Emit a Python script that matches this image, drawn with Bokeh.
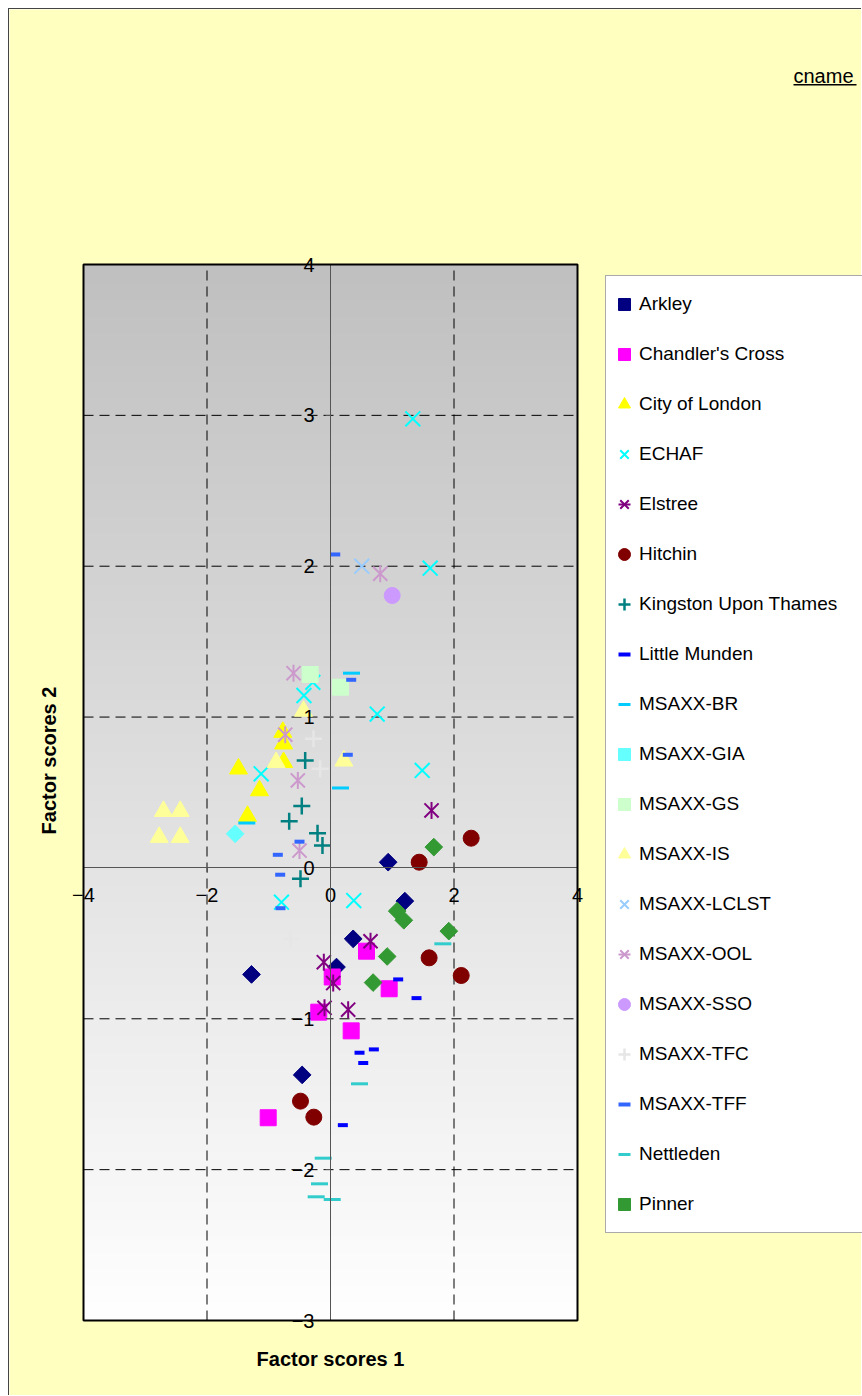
import numpy as np
from bokeh.plotting import figure
from bokeh.models import (Range1d, FixedTicker, Legend, LegendItem, ColumnDataSource,
                          Label, BoxAnnotation)
from bokeh.embed import file_html
from bokeh.resources import INLINE

# ---------------- data ----------------
arkley_x = [0.934, 1.204, 0.367, 0.097, -1.279, -0.459]
arkley_y = [0.038, -0.220, -0.470, -0.657, -0.706, -1.372]

chandlers_x = [0.583, 0.028, 0.950, -0.190, 0.335, -1.009]
chandlers_y = [-0.552, -0.723, -0.801, -0.956, -1.080, -1.656]

city_x = [-0.772, -0.760, -0.760, -1.490, -1.150, -1.344]
city_y = [0.900, 0.823, 0.700, 0.657, 0.513, 0.343]

echaf_x = [1.333, 1.614, -0.286, -0.430, 0.756, 1.485, -1.123, -0.794, 0.377]
echaf_y = [2.977, 1.987, 1.230, 1.143, 1.020, 0.646, 0.624, -0.227, -0.216]

elstree_x = [1.636, 0.648, -0.108, 0.044, -0.097, 0.286]
elstree_y = [0.381, -0.486, -0.625, -0.763, -0.927, -0.940]

hitchin_x = [2.278, 1.436, 1.597, 2.117, -0.486, -0.270]
hitchin_y = [0.197, 0.038, -0.596, -0.713, -1.546, -1.652]

kingston_x = [-0.410, -0.465, -0.669, -0.210, -0.130, -0.486]
kingston_y = [0.712, 0.410, 0.310, 0.230, 0.148, -0.072]

munden_x = [1.096, 1.393, 0.470, 0.702, 0.530, 0.200]
munden_y = [-0.739, -0.863, -1.225, -1.203, -1.293, -1.705]

br_x = [0.340, 0.162, -1.355]
br_y = [1.291, 0.530, 0.297]

gia_x = [-1.544]
gia_y = [0.226]

gs_x = [-0.329, 0.162]
gs_y = [1.282, 1.198]

is_x = [-0.437, -0.880, 0.216, -2.705, -2.434, -2.774, -2.434]
is_y = [1.040, 0.700, 0.710, 0.376, 0.376, 0.204, 0.204]

lclst_x = [0.507]
lclst_y = [2.000]

ool_x = [0.805, -0.599, -0.733, -0.529, -0.502]
ool_y = [1.950, 1.291, 0.883, 0.580, 0.115]

sso_x = [0.999]
sso_y = [1.806]

tfc_x = [-0.275, -0.167, -0.648]
tfc_y = [0.856, 0.657, -0.470]

tff_x = [0.077, 0.335, 0.280, -0.502, -0.853, -0.815, -0.810]
tff_y = [2.078, 1.247, 0.750, 0.174, 0.087, -0.045, -0.267]

nettleden_x = [1.819, 0.470, -0.118, -0.178, -0.232, 0.028]
nettleden_y = [-0.503, -1.431, -1.924, -2.094, -2.180, -2.198]

pinner_x = [1.673, 1.080, 1.187, 1.916, 0.918, 0.690]
pinner_y = [0.138, -0.286, -0.347, -0.419, -0.587, -0.760]

x_ticks = [-4, -2, 0, 2, 4]
y_ticks = [-3, -2, -1, 0, 1, 2, 3, 4]

# name, xs, ys, marker kind, colour
series = [
    ("Arkley", arkley_x, arkley_y, "diamond", "#000080"),
    ("Chandler's Cross", chandlers_x, chandlers_y, "square", "#FF00FF"),
    ("City of London", city_x, city_y, "triangle", "#FFFF00"),
    ("ECHAF", echaf_x, echaf_y, "x", "#00FFFF"),
    ("Elstree", elstree_x, elstree_y, "star", "#800080"),
    ("Hitchin", hitchin_x, hitchin_y, "circle", "#800000"),
    ("Kingston Upon Thames", kingston_x, kingston_y, "cross", "#008080"),
    ("Little Munden", munden_x, munden_y, "shortdash", "#0000FF"),
    ("MSAXX-BR", br_x, br_y, "longdash", "#00CCFF"),
    ("MSAXX-GIA", gia_x, gia_y, "diamond", "#66FFFF"),
    ("MSAXX-GS", gs_x, gs_y, "square", "#CCFFCC"),
    ("MSAXX-IS", is_x, is_y, "triangle", "#FFFF99"),
    ("MSAXX-LCLST", lclst_x, lclst_y, "x", "#99CCFF"),
    ("MSAXX-OOL", ool_x, ool_y, "star", "#CC99CC"),
    ("MSAXX-SSO", sso_x, sso_y, "circle", "#CC99FF"),
    ("MSAXX-TFC", tfc_x, tfc_y, "cross", "#E6E6E6"),
    ("MSAXX-TFF", tff_x, tff_y, "shortdash", "#3366FF"),
    ("Nettleden", nettleden_x, nettleden_y, "longdash", "#33CCCC"),
    ("Pinner", pinner_x, pinner_y, "diamond", "#339933"),
]

FONT = "Liberation Sans"

# ---------------- layout (canvas pixels) ----------------
W, H = 853, 1387                 # canvas size (page offset 9 px: 8 margin + 1 border)
PL, PR, PT, PB = 74, 568, 255, 1311   # plot-area box inside the canvas
x0, x1 = x_ticks[0], x_ticks[-1]
y0, y1 = y_ticks[0], y_ticks[-1]
sx = (PR - PL) / (x1 - x0)
sy = (PB - PT) / (y1 - y0)
xr = Range1d(x0 - PL / sx, x1 + (W - PR) / sx)
yr = Range1d(y0 - (H - PB) / sy, y1 + PT / sy)

p = figure(width=W, height=H, output_backend="svg", toolbar_location=None,
           x_range=xr, y_range=yr,
           min_border_left=0, min_border_right=0, min_border_top=0, min_border_bottom=0,
           background_fill_color="#FFFFC0", border_fill_color="#FFFFC0")
p.styles = {"margin-left": "8px", "margin-top": "8px",
            "border-top": "1px solid #444444", "border-left": "1px solid #444444"}
p.outline_line_color = None

# gradient background of the plotting area (gray top -> white bottom)
N = 512
vals = np.linspace(255, 192, N).astype(np.uint8)
img = np.empty((N, 1), dtype=np.uint32)
view = img.view(dtype=np.uint8).reshape((N, 1, 4))
view[:, 0, 0] = vals
view[:, 0, 1] = vals
view[:, 0, 2] = vals
view[:, 0, 3] = 255
p.image_rgba(image=[img], x=x0, y=y0, dw=x1 - x0, dh=y1 - y0, level="image")

# dashed grid lines inside the plot area only
p.xgrid.visible = False
p.ygrid.visible = False
gx = [t for t in x_ticks if t not in (x0, 0, x1)]
gy = [t for t in y_ticks if t not in (y0, 0, y1)]
p.segment(x0=gx, y0=[y0] * len(gx), x1=gx, y1=[y1] * len(gx),
          line_color="black", line_dash="10 6", line_width=1, level="underlay")
p.segment(x0=[x0] * len(gy), y0=gy, x1=[x1] * len(gy), y1=gy,
          line_color="black", line_dash="10 6", line_width=1, level="underlay")

for ax, ticks in ((p.xaxis, x_ticks), (p.yaxis, y_ticks)):
    ax.fixed_location = 0
    ax.bounds = (ticks[0], ticks[-1])
    ax.ticker = FixedTicker(ticks=ticks)
    ax.axis_line_color = "#555555"
    ax.axis_line_width = 1
    ax.major_tick_line_color = "#555555"
    ax.major_tick_out = 5
    ax.major_tick_in = 0
    ax.minor_tick_out = 0
    ax.minor_tick_in = 0
    ax.major_label_text_font = FONT
    ax.major_label_text_font_size = "20px"
    ax.major_label_text_color = "black"
p.xaxis.major_label_standoff = 15
p.yaxis.major_label_standoff = 11

items = []
for name, xs, ys, kind, color in series:
    src = ColumnDataSource(dict(x=xs, y=ys))
    rs = []
    if kind == "diamond":
        rs.append(p.scatter("x", "y", source=src, marker="square", angle=np.pi / 4, size=12.5,
                            fill_color=color, line_color=color))
    elif kind == "square":
        rs.append(p.scatter("x", "y", source=src, marker="square", size=16,
                            fill_color=color, line_color=color))
    elif kind == "triangle":
        rs.append(p.scatter("x", "y", source=src, marker="triangle", size=18,
                            fill_color=color, line_color=color))
    elif kind == "circle":
        rs.append(p.scatter("x", "y", source=src, marker="circle", size=16,
                            fill_color=color, line_color=color))
    elif kind == "x":
        rs.append(p.scatter("x", "y", source=src, marker="x", size=21,
                            line_color=color, line_width=2))
    elif kind == "star":
        rs.append(p.scatter("x", "y", source=src, marker="x", size=20,
                            line_color=color, line_width=2))
        rs.append(p.scatter("x", "y", source=src, marker="dash", angle=np.pi / 2, size=17,
                            line_color=color, line_width=2))
    elif kind == "cross":
        rs.append(p.scatter("x", "y", source=src, marker="cross", size=17,
                            line_color=color, line_width=2.5))
    elif kind == "shortdash":
        rs.append(p.scatter("x", "y", source=src, marker="dash", size=10,
                            line_color=color, line_width=4))
    elif kind == "longdash":
        rs.append(p.scatter("x", "y", source=src, marker="dash", size=17,
                            line_color=color, line_width=3))
    items.append(LegendItem(label=name, renderers=rs))

# plot-area border
p.add_layout(BoxAnnotation(left=x0, right=x1, bottom=y0, top=y1, fill_alpha=0,
                           line_color="black", line_width=2, line_alpha=1))

legend = Legend(items=items, location=(596, 163), orientation="vertical",
                glyph_width=30, glyph_height=50, label_height=20, spacing=0,
                padding=3, margin=0, label_standoff=0, label_width=250,
                label_text_font=FONT, label_text_font_size="19px", label_text_color="black",
                border_line_color="#555555", border_line_width=1,
                background_fill_color="white", background_fill_alpha=1.0)
p.add_layout(legend)

# axis titles and caption (screen px from the canvas' bottom-left corner)
p.add_layout(Label(x=321, y=38, x_units="screen", y_units="screen", text="Factor scores 1",
                   text_align="center", text_baseline="middle", text_font=FONT,
                   text_font_size="20px", text_font_style="bold", text_color="black"))
p.add_layout(Label(x=39, y=636, x_units="screen", y_units="screen", text="Factor scores 2",
                   angle=np.pi / 2, text_align="center", text_baseline="middle", text_font=FONT,
                   text_font_size="20px", text_font_style="bold", text_color="black"))
p.add_layout(Label(x=784, y=1321, x_units="screen", y_units="screen", text="cname",
                   text_align="left", text_baseline="middle", text_font=FONT,
                   text_font_size="20px", text_color="black"))
p.add_layout(BoxAnnotation(left=784, right=847, bottom=1311, top=1312.5,
                           left_units="screen", right_units="screen",
                           bottom_units="screen", top_units="screen",
                           fill_color="black", fill_alpha=1.0, line_alpha=0))

open("out.html", "w").write(file_html(p, INLINE))
